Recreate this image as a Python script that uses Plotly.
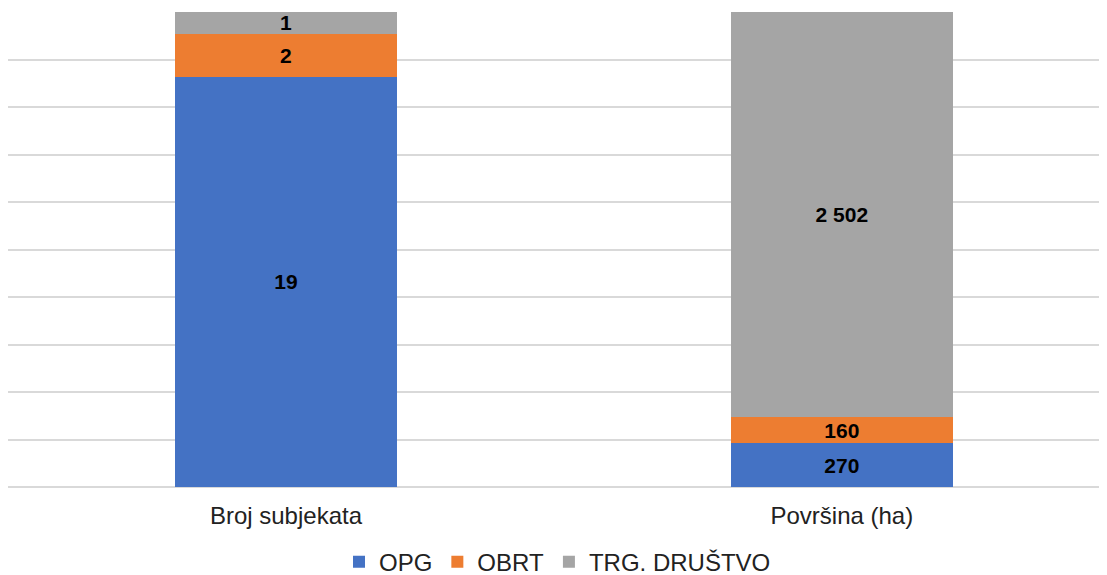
import plotly.graph_objects as go

categories = ["Broj subjekata", "Površina (ha)"]
opg = [19, 270]
obrt = [2, 160]
trg = [1, 2502]
series_names = ["OPG", "OBRT", "TRG. DRUŠTVO"]
colors = ["#4472C4", "#ED7D31", "#A5A5A5"]

def fmt(v):
    return f"{v:,}".replace(",", " ")

fig = go.Figure()
for name, vals, col in zip(series_names, [opg, obrt, trg], colors):
    fig.add_trace(go.Bar(
        x=categories, y=vals, name=name, marker=dict(color=col, line=dict(width=0)),
        width=0.4, text=[fmt(v) for v in vals], textposition="inside",
        insidetextanchor="middle", textangle=0,
        textfont=dict(family="Liberation Sans, Arial", size=21, color="black", weight="bold"),
        hoverinfo="skip",
    ))

# page body has an 8px default margin, so the figure is offset by (8, 8)
fig.update_layout(
    barmode="stack", barnorm="percent",
    width=1099, height=567,
    margin=dict(l=0, r=0, t=4, b=88, autoexpand=False),
    paper_bgcolor="white", plot_bgcolor="white",
    font=dict(family="Liberation Sans, Arial", color="#000000"),
    uniformtext=dict(mode="show", minsize=21),
    legend=dict(orientation="h", x=0.5, xanchor="center", y=-0.158, yanchor="middle",
                font=dict(size=24, color="#222"), traceorder="normal", itemwidth=30,
                borderwidth=0, tracegroupgap=0),
    showlegend=True,
)
fig.update_xaxes(range=[-0.5, 1.477], showgrid=False, showline=False, ticks="",
                 tickfont=dict(size=24, color="#222"), ticklabelstandoff=12)
fig.update_yaxes(range=[0, 100], dtick=10, showgrid=True, gridcolor="#D9D9D9", gridwidth=1.5,
                 showticklabels=False, zeroline=True, zerolinecolor="#D9D9D9", zerolinewidth=1.5,
                 showline=False)

fig.write_html("out.html")
